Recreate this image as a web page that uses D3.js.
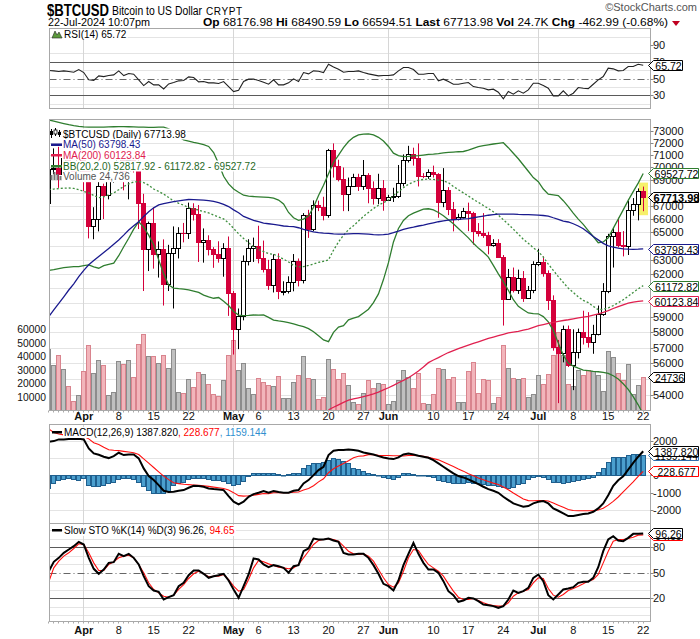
<!DOCTYPE html>
<html><head><meta charset="utf-8">
<script src="https://cdn.jsdelivr.net/npm/d3@7/dist/d3.min.js"></script>
<style>
html,body{margin:0;padding:0;background:#fff;}
svg text{font-family:"Liberation Sans",Arial,sans-serif;}
</style></head><body>
<svg id="chart" width="700" height="639"></svg>
<script>
// ---------------- DATA ----------------
const startDate = [2024, 2, 25]; // 25-Mar-2024, daily bars
const opens = [67210,69890,69990,69460,70780,69900,69650,71330,69700,65450,65980,68500,67840,68900,69360,71630,69140,70590,70060,67190,63820,65740,63430,63810,61280,63510,63840,64990,64930,66840,66410,64300,64470,63760,63420,63110,63840,60640,58250,59120,62890,63890,64030,63160,62330,61190,63050,60790,60800,61450,62900,61550,66270,65230,67050,66940,66280,71450,70140,69120,67930,68530,69270,68500,69390,68360,67630,68360,67490,67710,67750,68800,70570,71080,70760,69340,69310,69650,69510,67330,68240,66760,66010,66190,66640,66490,65140,64960,64830,64100,64250,63180,60280,61800,60860,61680,60320,60890,62680,62850,62030,60200,57040,56660,58230,55850,56710,58050,57720,57340,57890,59200,60800,64720,65040,64090,63990,66660,67140,68176.98];
const highs = [71150,71540,71670,71550,70900,70300,71370,71340,69710,66900,69290,68720,69000,70300,72700,71740,71170,71240,71230,67930,65810,66870,64340,64490,64090,65450,65390,65710,67250,67200,67070,65300,64790,63920,64350,64210,64700,60800,59600,63320,64500,64620,65500,64400,63000,63400,63470,61480,61830,63420,63100,66450,66700,67420,67400,67700,71500,71950,70620,70000,69200,69500,69500,70600,69550,68900,69500,69000,67850,68400,70200,71050,71750,71600,71950,69550,69850,70150,69550,69950,68450,67300,66400,66850,67250,66550,65700,66450,65050,64500,64500,63350,62350,62450,62300,62200,61150,62900,63800,63250,62250,60500,57500,58450,58450,58200,58250,59450,59350,58500,59800,61350,64900,65350,66100,65100,67400,67600,68350,68490.59];
const lows = [66390,69470,68390,68950,69100,69560,69620,68140,64560,64500,65080,66000,67500,68800,69000,68200,67500,69600,65250,60800,62200,62370,61740,59800,60800,59600,63100,64270,64520,65890,62850,62800,63320,62430,62800,61800,59100,56550,56900,58800,62600,62850,62750,62100,60880,60700,60240,60500,60630,60780,61120,61330,64600,65100,66600,65900,66100,69200,68900,66600,66600,68500,68150,68230,67200,67100,67130,66630,67400,67300,67600,68500,70400,70150,68500,69150,69100,69200,66100,66900,66300,65080,65900,66050,65100,64100,64700,64600,63400,63950,63250,58450,60250,60700,60600,60050,60300,60650,62550,61800,59500,56800,53500,56050,55750,54300,56300,57200,57000,56600,57800,59100,60650,62450,63900,63250,63350,66250,65900,66594.51];
const closes = [69890,69990,69460,70780,69900,69650,71330,69700,65450,65980,68500,67840,68900,69360,71630,69140,70590,70060,67190,63820,65740,63430,63810,61280,63510,63840,64990,64930,66840,66410,64300,64470,63760,63420,63110,63840,60640,58250,59120,62890,63890,64030,63160,62330,61190,63050,60790,60800,61450,62900,61550,66270,65230,67050,66940,66280,71450,70140,69120,67930,68530,69270,68500,69390,68360,67630,68360,67490,67710,67750,68800,70570,71080,70760,69340,69310,69650,69510,67330,68240,66760,66010,66190,66640,66490,65140,64960,64830,64100,64250,63180,60280,61800,60860,61680,60320,60890,62680,62850,62030,60200,57040,56660,58230,55850,56710,58050,57720,57340,57890,59200,60800,64720,65040,64090,63990,66660,67140,68177,67713.98];
const volumes = [45800,33500,40900,31000,17800,7400,11200,29000,48800,28000,37200,33500,11600,13900,36400,34700,37200,25000,49600,57000,40600,40600,35400,41400,31700,45800,13900,13100,23000,17600,28700,26800,19800,12600,10400,22300,41400,52000,29700,35400,16400,12400,24300,21300,18600,18300,25800,8900,8900,21300,26500,40600,24300,23500,8700,10200,38400,31000,23000,28000,18600,6200,4500,13100,22300,16600,20600,19800,4500,7400,22800,29700,24800,16600,28000,5500,5000,12400,31700,30500,23000,25000,6200,6200,29000,35700,12900,23000,22300,5700,10000,48300,31700,24300,23500,24300,9900,12400,26000,19300,27300,40900,58200,41400,19300,18100,29700,26000,29700,29000,26000,14100,43900,39500,28000,22300,34200,12400,18600,24736];
const ma50 = [59050,59500,59950,60400,60870,61300,61800,62250,62650,62950,63240,63530,63830,64130,64440,64800,65180,65500,65800,66200,66560,66850,67080,67180,67250,67320,67380,67440,67490,67480,67460,67440,67410,67340,67250,67120,66950,66700,66480,66200,66050,65900,65800,65700,65650,65600,65540,65480,65450,65430,65350,65230,65130,65050,64990,64950,64930,64900,64880,64880,64900,64910,64910,64900,64870,64840,64820,64840,64880,64980,65100,65230,65330,65400,65480,65550,65640,65720,65800,65860,65920,65950,65980,66010,66040,66100,66170,66230,66290,66330,66370,66380,66380,66370,66350,66340,66330,66320,66300,66270,66230,66100,65980,65850,65780,65650,65480,65280,65000,64700,64450,64200,64020,63930,63850,63800,63770,63760,63770,63798.43];
const ma200 = [null,null,null,null,null,null,null,null,null,null,null,null,null,null,null,null,null,null,null,null,null,null,null,null,null,null,null,null,null,null,null,null,null,null,null,null,null,null,null,null,null,null,null,null,null,null,null,null,null,null,null,null,null,null,null,null,53100,53250,53400,53550,53680,53760,53830,53900,53970,54070,54180,54320,54450,54600,54760,54910,55070,55280,55500,55750,56030,56200,56350,56520,56680,56810,56940,57050,57160,57270,57380,57490,57600,57690,57780,57870,57960,58010,58060,58140,58220,58330,58440,58520,58600,58670,58730,58790,58840,58900,58960,59020,59070,59150,59230,59330,59450,59600,59730,59850,59960,60030,60080,60123.84];
const bbUpper = [73900,73800,73700,73600,73500,73420,73360,73320,73300,73290,73290,73300,73320,73330,73340,73340,73330,73320,73300,73290,73280,73280,73290,73290,73150,72900,72500,72230,72130,72030,71950,71850,71700,71200,70300,69300,68700,68300,68050,67820,67750,67720,67700,67680,67660,67600,67450,67150,66500,66100,65900,66000,66240,66900,67800,68600,69500,70400,71000,71600,72100,72450,72650,72720,72730,72650,72450,72150,71700,71150,70950,70880,70900,70930,70950,71000,71050,71080,71120,71170,71210,71240,71270,71290,71400,71550,71690,71760,71830,71900,71960,72010,71600,71150,70700,70200,69700,69200,68880,68300,67900,67850,67790,67400,66940,66450,66000,65600,65140,64700,64240,64300,64610,65300,66000,66700,67420,68100,68760,69527.72];
const bbMid = [68250,68300,68340,68370,68380,68350,68250,68120,68000,67800,67630,67700,67850,68000,68250,68500,68700,68850,68900,68800,68600,68300,68120,67900,67650,67370,67200,67050,66870,66770,66680,66560,66460,66300,66150,66010,65700,65300,64900,64550,64250,63950,63750,63600,63450,63400,63250,63050,62850,62600,62500,62520,62600,62700,62820,62900,63000,63700,64300,64800,65200,65500,65850,66200,66500,66800,67050,67250,67450,67800,68100,68400,68680,68850,69000,69050,69080,69050,69000,68950,68800,68500,68250,68000,67760,67500,67270,67030,66800,66550,66300,65950,65610,65250,64870,64500,64200,63880,63600,63200,62700,62250,61810,61400,61000,60700,60400,60150,60000,59750,59520,59550,59640,59800,59990,60200,60440,60700,60950,61172.82];
const bbLower = [62240,62300,62380,62440,62480,62510,62520,62580,62640,62500,62400,62590,62680,62760,63300,63950,64570,65250,65800,65400,64800,64100,63000,62000,61210,61000,60960,60930,60880,60800,60700,60520,60400,60300,60350,60100,59800,59400,59150,59120,59130,59160,59150,59160,59000,58820,58760,58710,58650,58560,58460,58380,58250,58040,57770,57500,57390,58000,58350,58450,58830,58950,59050,59300,59550,60000,60600,61600,62800,64300,65300,65900,66250,66450,66600,66750,66780,66700,66500,66250,65950,65650,65300,64950,64600,64200,63850,63550,63200,62600,62000,61460,60850,60200,59750,59520,59300,59250,59240,59050,58700,58130,57300,56500,56000,55810,55680,55560,55520,55480,55450,55410,55350,55200,55000,54700,54350,53900,53400,52817.92];
const rsi = [59.5,59.1,58.3,59.1,58.3,57.5,60.7,57.1,48.4,47.6,53.1,52.3,53.5,54.3,59.1,53.5,55.9,55.1,48.4,41.6,46.4,42.4,42.4,37.6,43.6,45.2,47.2,47.6,51.9,51.2,46.0,46.4,44.8,44.8,44.0,46.4,40.4,34.5,36.1,46.4,49.2,49.2,47.6,45.6,43.2,48.4,42.4,42.4,44.8,49.6,46.4,57.1,55.5,59.1,58.7,57.1,67.0,63.8,61.1,57.5,58.3,58.3,59.1,57.1,55.5,54.3,53.1,53.5,53.5,54.3,59.1,63.1,63.1,60.7,55.1,55.1,55.9,55.9,47.2,49.2,46.4,43.2,43.2,44.4,45.2,40.4,39.2,38.4,36.5,37.3,33.7,25.7,34.5,31.3,35.3,32.5,36.5,44.4,44.4,41.6,38.4,29.3,29.3,35.3,29.3,32.5,39.2,38.4,38.0,43.2,48.4,52.3,62.3,61.5,59.1,59.5,64.2,64.2,67.0,65.72];
const macd = [1933,1972,2068,2068,2087,2087,2106,2068,1549,1261,1184,1069,992,1107,1299,1165,1203,1203,973,397,-45,-276,-564,-891,-967,-948,-891,-852,-718,-602,-622,-660,-756,-795,-814,-852,-1198,-1524,-1678,-1524,-1236,-1083,-1006,-910,-1006,-910,-967,-1006,-1006,-891,-852,-468,-276,12,301,493,1165,1415,1453,1453,1491,1453,1415,1318,1261,1203,1107,1030,973,934,1030,1203,1261,1203,1127,1069,1011,877,685,493,301,108,-45,-122,-237,-372,-506,-660,-795,-891,-1006,-1236,-1428,-1621,-1717,-1813,-1774,-1621,-1524,-1486,-1621,-1909,-2043,-2197,-2350,-2350,-2293,-2235,-2197,-2101,-1909,-1621,-1150,-600,-290,-60,330,720,1070,1387.82];
const macdSignal = [2670,2470,2380,2330,2290,2280,2260,2230,2100,1880,1780,1620,1470,1440,1420,1380,1340,1300,1200,950,700,450,200,-50,-250,-430,-480,-520,-540,-560,-580,-600,-640,-680,-720,-760,-850,-1000,-1170,-1200,-1180,-1150,-1100,-1050,-1060,-1010,-1010,-1000,-1000,-980,-960,-850,-760,-600,-380,-200,150,380,535,680,840,1015,1100,1120,1190,1190,1150,1145,1140,1130,1130,1110,1140,1140,1127,1090,1035,960,890,760,630,505,360,240,90,-30,-160,-260,-360,-450,-530,-670,-830,-1020,-1195,-1360,-1460,-1465,-1455,-1450,-1480,-1600,-1720,-1840,-1970,-2030,-2040,-2040,-2040,-2030,-2000,-1900,-1720,-1500,-1250,-960,-670,-380,-60,228.677];
const macdHist = [-756,-468,-276,-237,-180,-237,-276,-180,-564,-622,-622,-564,-468,-372,-237,-180,-180,-237,-372,-622,-852,-1006,-1044,-1044,-891,-564,-468,-372,-237,-180,-180,-180,-237,-276,-276,-314,-468,-564,-506,-314,-45,108,108,147,147,108,70,12,70,108,147,397,589,685,723,781,877,973,915,838,685,435,338,262,108,50,0,-96,-180,-218,-122,108,108,50,0,0,-26,-122,-276,-334,-410,-468,-468,-430,-410,-430,-468,-506,-545,-564,-602,-698,-718,-660,-526,-430,-237,-122,-45,-122,-237,-372,-410,-430,-410,-334,-276,-218,-180,-96,166,397,781,1030,1030,1069,1165,1203,1203,1159.144];
const stoK = [51.9,62.9,67.6,73.5,77.4,81.3,86.4,83.3,67.6,54.7,48.8,53.9,61.7,62.5,72.3,69.6,72.3,67.6,59.8,46.0,34.3,29.2,27.6,18.6,21.3,23.7,34.3,38.2,47.2,52.7,52.7,48.8,44.1,46.0,47.2,48.8,41.0,30.4,20.6,34.3,48.0,66.8,65.6,59.8,56.6,59.0,57.8,55.8,50.0,57.8,59.0,75.4,78.6,90.3,89.2,89.2,90.3,88.0,86.4,73.5,71.5,71.5,72.3,72.3,67.6,59.0,48.8,37.0,34.3,29.2,41.0,59.0,72.3,85.2,72.3,61.7,53.9,53.9,50.0,40.2,28.4,23.7,15.9,17.4,20.6,19.8,16.6,12.7,11.9,10.8,8.8,10.8,18.6,29.2,26.4,28.4,32.3,44.1,48.0,40.2,23.7,18.6,24.5,30.4,31.5,33.1,38.2,39.4,39.4,44.1,56.6,75.4,89.2,93.1,88.0,87.2,91.1,95.8,95.8,96.26];
const stoD = [39.4,55.8,63.7,69.6,73.5,78.6,84.1,83.3,73.5,61.7,52.7,52.7,59.8,62.9,67.6,69.6,70.7,67.6,59.8,50.0,38.2,30.4,26.4,22.5,21.3,23.7,30.4,36.2,43.3,48.8,51.9,48.8,45.3,46.0,46.0,48.0,42.1,34.3,28.4,30.4,42.1,55.8,64.5,62.9,60.5,58.6,56.6,55.8,54.7,55.8,59.8,67.6,75.4,83.3,88.0,89.2,90.0,89.2,87.2,81.3,75.4,72.3,71.5,72.3,69.6,63.7,53.9,44.1,36.2,33.1,38.2,51.9,67.6,77.4,76.2,67.6,59.8,55.8,51.9,46.0,37.0,28.4,21.3,18.6,18.6,19.8,17.4,14.7,12.7,11.5,10.8,10.8,14.7,22.5,26.4,28.4,30.4,38.2,44.1,43.3,31.5,23.7,21.3,24.5,29.2,31.5,34.3,37.0,40.2,42.1,48.0,61.7,75.4,87.2,89.2,89.2,90.3,91.9,94.3,94.65];

const priceTicks = [54000,55000,56000,57000,58000,59000,60000,61000,62000,63000,64000,65000,66000,67000,68000,69000,70000,71000,72000,73000];
const volumeTicks = [10000,20000,30000,40000,50000,60000];
const rsiTicks = [30,50,70,90];
const macdTicks = [-2000,-1000,0,1000,2000];
const stoTicks = [20,50,80];
const tickDates = ["2024-04-01","2024-04-08","2024-04-15","2024-04-22","2024-05-01","2024-05-06","2024-05-13","2024-05-20","2024-05-27","2024-06-01","2024-06-10","2024-06-17","2024-06-24","2024-07-01","2024-07-08","2024-07-15","2024-07-22"];
const tickLabels = ["Apr","8","15","22","May","6","13","20","27","Jun","10","17","24","Jul","8","15","22"];

// ---------------- LAYOUT ----------------
const svg = d3.select('#chart');
const N = closes.length;
const dates = d3.range(N).map(i => new Date(Date.UTC(startDate[0], startDate[1], startDate[2] + i)));
const x = d3.scaleUtc().domain([dates[0], dates[N-1]]).range([48.3, 642.7]);
const cx = i => Math.round(x(dates[i]));
const L = 49.5, R = 650.5;
const P = { rsi:{t:28.5,b:108.5}, main:{t:119.5,b:410.5}, macd:{t:424.5,b:523.5}, sto:{t:523.5,b:621.5} };

const yRsi = d3.scaleLinear().domain([30,70]).range([95.3,61.7]);
const yP = d3.scaleLog().domain([54000,73000]).range([395.0,130.7]);
const yV = d3.scaleLinear().domain([0,60000]).range([410.5,329.6]);
const yM = d3.scaleLinear().domain([-2000,2000]).range([510.0,440.6]);
const yS = d3.scaleLinear().domain([20,80]).range([598.3,547.3]);

const FONT_LBL = '"DejaVu Sans",Verdana,sans-serif';
const RED = '#d4003b';

const defs = svg.append('defs');
Object.entries(P).forEach(([k,p]) => {
  defs.append('clipPath').attr('id','clip-'+k).append('rect')
    .attr('x',L).attr('y',p.t).attr('width',R-L).attr('height',p.b-p.t);
});

function panelBase(key, scale, gridVals){
  const p = P[key];
  const g = svg.append('g');
  g.append('rect').attr('x',L).attr('y',p.t).attr('width',R-L).attr('height',p.b-p.t).attr('fill','#fff');
  const gg = g.append('g').attr('clip-path','url(#clip-'+key+')');
  gridVals.forEach(v => {
    const yy = Math.round(scale(v))+0.5;
    gg.append('line').attr('x1',L).attr('x2',R).attr('y1',yy).attr('y2',yy).attr('stroke','#e4e4e4');
  });
  dates.forEach((d,i) => {
    if (d.getUTCDate() === 1) {
      gg.append('line').attr('x1',cx(i)+0.5).attr('x2',cx(i)+0.5).attr('y1',p.t).attr('y2',p.b).attr('stroke','#d6d6d6');
    }
  });
  return g;
}
function frame(key){
  const p = P[key];
  svg.append('rect').attr('x',L).attr('y',p.t).attr('width',R-L).attr('height',p.b-p.t)
    .attr('fill','none').attr('stroke','#a8a8a8');
}
function lineOf(vals, scale){
  return d3.line().defined(d => d != null).x((d,i)=>x(dates[i])+0.5).y(d=>scale(d))(vals);
}
function hline(g, yy, style){
  const l = g.append('line').attr('x1',L).attr('x2',R).attr('y1',Math.round(yy)+0.5).attr('y2',Math.round(yy)+0.5)
    .attr('stroke','#5a5a5a');
  if (style==='dashdot') l.attr('stroke','#666').attr('stroke-dasharray','7,3,1,3');
}
function rightLabels(vals, scale, tagYs){
  vals.forEach(v => {
    const yy = scale(v);
    svg.append('line').attr('x1',R).attr('x2',R+3).attr('y1',Math.round(yy)+0.5).attr('y2',Math.round(yy)+0.5).attr('stroke','#888');
    const covered = (tagYs||[]).some(t => Math.abs(t - yy) < 3.8);
    if (!covered) svg.append('text').attr('x',653).attr('y',yy+4).attr('font-size',11).attr('fill','#111').text(v);
  });
}
function tag(yc, txt, color, opt){
  opt = opt||{};
  const x0 = 648.5, x1 = opt.x1 || 698.5, h = 5;
  const yy = Math.round(yc)+0.5;
  svg.append('path').attr('d',`M${x0},${yy} L${x0+5},${yy-h} L${x1},${yy-h} L${x1},${yy+h} L${x0+5},${yy+h} Z`)
    .attr('fill','#fff').attr('stroke',color).attr('stroke-width',1);
  svg.append('text').attr('x',(x0+5+x1)/2+0.5).attr('y',yy+4).attr('text-anchor','middle')
    .attr('font-size',opt.fs||10.5).attr('font-weight',opt.bold?'bold':'normal').attr('fill','#000').text(txt);
}
function legendText(g, xx, yy, parts){
  const t = g.append('text').attr('x',xx).attr('y',yy).attr('font-family',FONT_LBL).attr('font-size',10);
  parts.forEach(p => t.append('tspan').attr('fill',p.c).text(p.t));
  const bb = t.node().getBBox();
  g.insert('rect', () => t.node()).attr('x',bb.x-1).attr('y',bb.y).attr('width',bb.width+2).attr('height',bb.height).attr('fill','#fff');
  return t;
}
function xAxisLabels(yy){
  tickDates.forEach((ds,k) => {
    const d = new Date(ds+'T00:00:00Z');
    const lab = tickLabels[k];
    const bold = isNaN(+lab);
    svg.append('text').attr('x',x(d)+0.5).attr('y',yy).attr('text-anchor','middle').attr('font-size',11)
      .attr('font-weight',bold?'bold':'normal').attr('fill','#111').text(lab);
  });
}
function dayTicks(yb){
  dates.forEach((d,i) => {
    svg.append('line').attr('x1',cx(i)+0.5).attr('x2',cx(i)+0.5).attr('y1',yb).attr('y2',yb+2).attr('stroke','#aaa');
  });
}

// ---------------- HEADER ----------------
svg.append('text').attr('x',47).attr('y',16).attr('font-size',17).attr('font-weight','bold')
  .attr('textLength',62).attr('lengthAdjust','spacingAndGlyphs').text('$BTCUSD');
svg.append('text').attr('x',112).attr('y',15).attr('font-size',12)
  .attr('textLength',90).attr('lengthAdjust','spacingAndGlyphs').text('Bitcoin to US Dollar');
svg.append('text').attr('x',206).attr('y',15).attr('font-size',10)
  .attr('textLength',36).attr('lengthAdjust','spacing').text('CRYPT');
svg.append('text').attr('x',697).attr('y',11).attr('text-anchor','end').attr('font-size',11).attr('fill','#555')
  .text('\u00A9StockCharts.com');
svg.append('text').attr('x',48).attr('y',26).attr('font-size',11)
  .attr('textLength',102).attr('lengthAdjust','spacingAndGlyphs').text('22-Jul-2024 10:07pm');
(function(){
  const t = svg.append('text').attr('x',203).attr('y',26).attr('font-size',11)
    .attr('textLength',465).attr('lengthAdjust','spacingAndGlyphs');
  const parts = [['Op',1],[' 68176.98  ',0],['Hi',1],[' 68490.59  ',0],['Lo',1],[' 66594.51  ',0],['Last',1],[' 67713.98  ',0],['Vol',1],[' 24.7K  ',0],['Chg',1],[' -462.99 (-0.68%)',0]];
  parts.forEach(p => t.append('tspan').attr('font-weight',p[1]?'bold':'normal').text(p[0]));
  svg.append('path').attr('d','M672,21 L680,21 L676,26 Z').attr('fill','#c00020');
})();

// ---------------- RSI PANEL ----------------
{
  const g = panelBase('rsi', yRsi, [20,40,60,80,100]);
  const gc = g.append('g').attr('clip-path','url(#clip-rsi)');
  hline(gc, yRsi(70)); hline(gc, yRsi(30)); hline(gc, yRsi(50), 'dashdot');
  gc.append('path').attr('d', lineOf(rsi, yRsi)).attr('fill','none').attr('stroke','#222').attr('stroke-width',1.1);
  frame('rsi');
  rightLabels(rsiTicks, yRsi, []);
  const lg = svg.append('g');
  lg.append('path').attr('d','M52,38 L55,31 L57,35 L59,32 L62,38 Z').attr('fill','#5c9a3c').attr('stroke','#222').attr('stroke-width',0.6);
  legendText(lg, 64, 38, [{t:'RSI(14) 65.72', c:'#000'}]);
  tag(yRsi(65.72), '65.72', '#000', {x1:682.5, fs:10.5});
}

// ---------------- MAIN PANEL ----------------
{
  const gridVals = d3.range(53000, 75000, 1000);
  const g = panelBase('main', yP, gridVals);
  const gc = g.append('g').attr('clip-path','url(#clip-main)');
  volumes.forEach((v,i) => {
    const up = closes[i] >= (i ? closes[i-1] : opens[i]);
    const c = cx(i);
    const top = Math.round(yV(v));
    gc.append('rect').attr('x',c-1.5).attr('y',top+0.5).attr('width',4).attr('height',Math.max(0,410-top))
      .attr('fill', up ? '#c0c0c0' : '#f2b5bb').attr('stroke', up ? '#8c8c8c' : '#d9848e').attr('stroke-width',1);
  });
  const cl = cx(N-1);
  gc.append('rect').attr('x',cl-4).attr('y',yP(highs[N-1])-4).attr('width',9)
    .attr('height',yP(lows[N-1])-yP(highs[N-1])+8).attr('fill','#f7f06a');
  for (let i=0;i<N;i++){
    const prev = i ? closes[i-1] : opens[i];
    const col = closes[i] >= prev ? '#000' : RED;
    const c = cx(i);
    gc.append('line').attr('x1',c+0.5).attr('x2',c+0.5).attr('y1',yP(highs[i])).attr('y2',yP(lows[i])).attr('stroke',col);
    const top = Math.round(yP(Math.max(opens[i],closes[i])));
    const bot = Math.round(yP(Math.min(opens[i],closes[i])));
    if (closes[i] >= opens[i]) {
      gc.append('rect').attr('x',c-1.5).attr('y',top+0.5).attr('width',4).attr('height',Math.max(1,bot-top))
        .attr('fill','#fff').attr('stroke',col);
    } else {
      gc.append('rect').attr('x',c-2).attr('y',top).attr('width',5).attr('height',Math.max(1,bot-top+1)).attr('fill',col);
    }
  }
  gc.append('path').attr('d', lineOf(bbUpper, yP)).attr('fill','none').attr('stroke','#2f7d2f').attr('stroke-width',1.3);
  gc.append('path').attr('d', lineOf(bbLower, yP)).attr('fill','none').attr('stroke','#2f7d2f').attr('stroke-width',1.3);
  gc.append('path').attr('d', lineOf(bbMid, yP)).attr('fill','none').attr('stroke','#3f8f3f').attr('stroke-width',1.3).attr('stroke-dasharray','2,2');
  gc.append('path').attr('d', lineOf(ma50, yP)).attr('fill','none').attr('stroke','#1a1a8e').attr('stroke-width',1.3);
  gc.append('path').attr('d', lineOf(ma200, yP)).attr('fill','none').attr('stroke','#e0204f').attr('stroke-width',1.3);
  frame('main');
  const mainTagYs = [yP(69527.72), yP(67713.98), yP(63798.43), yP(61172.82), yP(60123.84), yV(24736)];
  rightLabels(priceTicks, yP, mainTagYs);
  volumeTicks.forEach(v => {
    svg.append('text').attr('x',46).attr('y',yV(v)+3.5).attr('text-anchor','end').attr('font-size',10.3).attr('fill','#111').text(v);
  });
  const lg = svg.append('g');
  lg.append('path').attr('d','M51.5,129 V138 M55.5,128 V136 M59.5,130 V137').attr('stroke','#000');
  lg.append('rect').attr('x',50).attr('y',131).attr('width',3).attr('height',4).attr('fill','#000');
  lg.append('rect').attr('x',54).attr('y',130).attr('width',3).attr('height',4).attr('fill','#fff').attr('stroke','#000').attr('stroke-width',0.8);
  lg.append('rect').attr('x',58).attr('y',132).attr('width',3).attr('height',3).attr('fill','#000');
  legendText(lg, 63, 137.5, [{t:'$BTCUSD (Daily) 67713.98', c:'#000'}]);
  lg.append('rect').attr('x',51).attr('y',143.5).attr('width',11).attr('height',2.5).attr('fill','#1a1a8e');
  legendText(lg, 63, 148, [{t:'MA(50) 63798.43', c:'#1a1a8e'}]);
  lg.append('rect').attr('x',51).attr('y',154).attr('width',11).attr('height',2.5).attr('fill','#e0204f');
  legendText(lg, 63, 158.7, [{t:'MA(200) 60123.84', c:'#e0204f'}]);
  lg.append('rect').attr('x',51).attr('y',165).attr('width',11).attr('height',2.5).attr('fill','#2f7d2f');
  legendText(lg, 63, 169.5, [{t:'BB(20,2.0) 52817.92 - 61172.82 - 69527.72', c:'#1f6a1f'}]);
  lg.append('path').attr('d','M51.5,180 V175 M54.5,180 V172 M57.5,180 V174 M60.5,180 V176').attr('stroke','#777').attr('stroke-width',2);
  legendText(lg, 63, 180.2, [{t:'Volume 24,736', c:'#555'}]);
  tag(yP(69527.72), '69527.72', '#2f7d2f');
  tag(yP(67713.98), '67713.98', '#000', {bold:true, fs:11});
  tag(yP(63798.43), '63798.43', '#1a1a8e');
  tag(yP(61172.82), '61172.82', '#2f7d2f');
  tag(yP(60123.84), '60123.84', '#e0204f');
  tag(yV(24736), '24736', '#000', {x1:684.5});
  dayTicks(P.main.b);
  xAxisLabels(419.5);
}

// ---------------- MACD PANEL ----------------
{
  const g = panelBase('macd', yM, [-2000,-1000,0,1000,2000]);
  const gc = g.append('g').attr('clip-path','url(#clip-macd)');
  const y0 = Math.round(yM(0));
  macdHist.forEach((v,i) => {
    const c = cx(i);
    const yy = Math.round(yM(v));
    const t = Math.min(yy,y0), h = Math.abs(yy-y0);
    gc.append('rect').attr('x',c-1.5).attr('y',t+0.5).attr('width',4).attr('height',Math.max(0.5,h))
      .attr('fill','#4b9fce').attr('stroke','#1f5f8e').attr('stroke-width',1);
  });
  gc.append('path').attr('d', lineOf(macdSignal, yM)).attr('fill','none').attr('stroke','#ff1010').attr('stroke-width',1.1);
  gc.append('path').attr('d', lineOf(macd, yM)).attr('fill','none').attr('stroke','#000').attr('stroke-width',2);
  frame('macd');
  rightLabels(macdTicks, yM, [yM(1387.82), yM(1159.144)]);
  const lg = svg.append('g');
  lg.append('rect').attr('x',52).attr('y',431).attr('width',10).attr('height',2.5).attr('fill','#000');
  legendText(lg, 64, 436, [{t:'MACD(12,26,9) 1387.820', c:'#000'},{t:', 228.677', c:'#ff0000'},{t:', 1159.144', c:'#2f8fcf'}]);
  tag(yM(1159.144), '1159.144', '#2f6fae');
  tag(yM(1387.82), '1387.820', '#000');
  tag(yM(228.677), '228.677', '#ff0000');
}

// ---------------- STO PANEL ----------------
{
  const g = panelBase('sto', yS, [0,10,30,40,60,70,90,100]);
  const gc = g.append('g').attr('clip-path','url(#clip-sto)');
  hline(gc, yS(80)); hline(gc, yS(20)); hline(gc, yS(50), 'dashdot');
  gc.append('path').attr('d', lineOf(stoD, yS)).attr('fill','none').attr('stroke','#ff1010').attr('stroke-width',1.1);
  gc.append('path').attr('d', lineOf(stoK, yS)).attr('fill','none').attr('stroke','#000').attr('stroke-width',2);
  frame('sto');
  rightLabels(stoTicks, yS, []);
  const lg = svg.append('g');
  lg.append('rect').attr('x',52).attr('y',529).attr('width',10).attr('height',2.5).attr('fill','#000');
  legendText(lg, 64, 534, [{t:'Slow STO %K(14) %D(3) 96.26, ', c:'#000'},{t:'94.65', c:'#ff0000'}]);
  tag(yS(94.65), '94.65', '#ff0000', {x1:682.5});
  tag(yS(96.26), '96.26', '#000', {x1:682.5});
  dayTicks(P.sto.b);
  xAxisLabels(633.5);
}
</script></body></html>
